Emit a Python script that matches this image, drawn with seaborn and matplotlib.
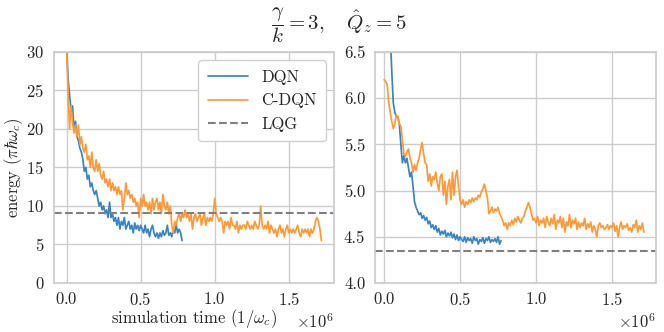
import numpy as np
import pandas as pd
import matplotlib
matplotlib.use('agg')
import matplotlib.pyplot as plt
import seaborn as sns

# time step between logged points (simulation time units)
dt = 1e4

# left panel: energy in units of pi*hbar*omega_c
left_dqn = [31.0, 26.5, 24.5, 22.5, 23.0, 20.0, 21.0, 19.0, 18.5, 17.5,
            17.0, 16.0, 14.5, 15.0, 13.5, 14.0, 12.5, 13.0, 12.0, 11.5,
            12.0, 11.0, 10.0, 10.5, 9.5, 10.0, 9.0, 9.5, 8.5, 10.5,
            8.5, 9.0, 8.0, 8.5, 7.5, 8.5, 7.0, 8.0, 7.5, 8.5,
            7.0, 7.5, 8.0, 7.0, 7.5, 6.5, 7.8, 7.0, 7.5, 6.8,
            7.5, 7.0, 6.5, 7.5, 6.5, 7.0, 6.0, 7.0, 7.5, 6.5,
            6.0, 6.5, 5.8, 6.5, 6.0, 6.8, 6.2, 6.5, 7.5, 6.2,
            6.5, 6.0, 7.0, 6.5, 7.5, 6.5, 7.0, 6.5, 5.5]
left_cdqn = [30.5, 25.0, 20.0, 23.0, 21.0, 19.5, 20.5, 19.0, 20.5, 18.0,
             19.0, 17.5, 17.0, 18.0, 16.0, 16.5, 15.0, 17.0, 15.0, 14.5,
             16.0, 14.5, 15.5, 14.0, 13.5, 14.5, 13.0, 13.5, 12.5, 13.5,
             12.0, 13.0, 12.0, 12.5, 11.5, 12.5, 11.5, 12.0, 9.5, 11.0,
             13.0, 11.5, 12.0, 11.0, 11.5, 10.5, 11.0, 10.0, 10.5, 8.5,
             11.0, 10.0, 11.5, 10.0, 10.5, 9.5, 10.5, 9.0, 11.0, 9.5,
             10.5, 11.0, 9.5, 10.5, 9.0, 11.5, 10.0, 9.5, 10.5, 9.0,
             10.0, 7.5, 6.5, 8.0, 7.5, 8.5, 9.0, 8.0, 9.0, 8.5,
             9.5, 8.5, 9.0, 8.0, 9.0, 7.0, 8.5, 9.0, 8.0, 8.5,
             9.0, 7.5, 8.5, 9.0, 7.5, 8.5, 8.0, 8.5, 8.0, 9.0,
             11.0, 9.0, 8.5, 8.0, 8.5, 8.0, 6.5, 8.0, 7.5, 8.0,
             7.0, 8.5, 7.5, 7.5, 7.0, 8.0, 6.5, 7.5, 7.0, 7.5,
             7.5, 7.0, 8.0, 7.5, 7.0, 7.5, 7.0, 8.0, 7.5, 7.0,
             7.5, 10.0, 7.5, 7.0, 7.5, 7.0, 8.0, 6.5, 7.5, 7.0,
             6.5, 7.0, 6.0, 7.0, 7.5, 6.5, 7.0, 6.0, 7.0, 7.5,
             6.5, 7.0, 6.5, 7.0, 6.5, 7.0, 7.5, 6.5, 6.0, 7.0,
             6.5, 7.0, 6.5, 7.0, 6.0, 7.0, 6.5, 7.0, 8.0, 8.5,
             8.0, 7.0, 5.5]
left_lqg = 9.1

# right panel
right_dqn = [9.5, 8.6, 7.8, 7.2, 6.7, 6.3, 5.95, 5.85, 5.8, 5.8,
             5.72, 5.5, 5.3, 5.38, 5.3, 5.35, 5.25, 5.15, 5.2, 5.05,
             4.88, 4.82, 4.78, 4.74, 4.76, 4.7, 4.73, 4.68, 4.71, 4.64,
             4.67, 4.6, 4.63, 4.58, 4.62, 4.55, 4.59, 4.52, 4.56, 4.53,
             4.57, 4.5, 4.54, 4.51, 4.55, 4.49, 4.53, 4.47, 4.52, 4.46,
             4.5, 4.47, 4.45, 4.5, 4.44, 4.49, 4.46, 4.48, 4.43, 4.5,
             4.46, 4.48, 4.42, 4.47, 4.45, 4.49, 4.43, 4.48, 4.46, 4.5,
             4.44, 4.47, 4.45, 4.48, 4.44, 4.5, 4.42, 4.46]
right_cdqn = [6.2, 6.18, 6.15, 5.95, 5.85, 5.75, 5.67, 5.72, 5.82, 5.8,
              5.72, 5.7, 5.55, 5.4, 5.37, 5.42, 5.45, 5.35, 5.3, 5.2,
              5.28, 5.22, 5.3, 5.35, 5.45, 5.52, 5.4, 5.3, 5.28, 5.1,
              5.18, 5.05, 5.15, 5.12, 5.2, 5.08, 5.0, 5.15, 5.18, 4.95,
              5.1, 4.85, 5.05, 5.12, 4.9, 5.2, 4.95, 5.15, 5.22, 5.05,
              4.9, 4.85, 4.9, 4.82, 4.88, 4.85, 4.9, 4.87, 4.92, 4.88,
              4.92, 4.9, 4.95, 4.93, 4.98, 5.02, 5.07, 5.0, 4.92, 4.75,
              4.78, 4.82, 4.76, 4.8, 4.78, 4.82, 4.75, 4.72, 4.68, 4.62,
              4.65, 4.58, 4.65, 4.62, 4.68, 4.63, 4.7, 4.66, 4.72, 4.68,
              4.65, 4.7, 4.72, 4.78, 4.82, 4.87, 4.82, 4.75, 4.68, 4.7,
              4.65, 4.72, 4.62, 4.68, 4.65, 4.7, 4.6, 4.72, 4.66, 4.62,
              4.7, 4.64, 4.74, 4.58, 4.68, 4.65, 4.72, 4.6, 4.7, 4.55,
              4.66, 4.62, 4.74, 4.6, 4.68, 4.64, 4.7, 4.58, 4.66, 4.6,
              4.65, 4.62, 4.7, 4.58, 4.64, 4.6, 4.66, 4.55, 4.62, 4.58,
              4.5, 4.62, 4.65, 4.6, 4.62, 4.58, 4.6, 4.63, 4.58, 4.62,
              4.6, 4.65, 4.56, 4.62, 4.5, 4.6, 4.66, 4.58, 4.62, 4.6,
              4.64, 4.57, 4.6, 4.55, 4.63, 4.6, 4.68, 4.55, 4.62, 4.58,
              4.65, 4.55]
right_lqg = 4.35

blue = '#3a84c2'
orange = '#ff9a3a'

sns.set_theme(style='whitegrid')
plt.rcParams['font.family'] = ['cmr10', 'DejaVu Serif']
plt.rcParams['mathtext.fontset'] = 'cm'
plt.rcParams['axes.formatter.use_mathtext'] = True
plt.rcParams['axes.unicode_minus'] = False

fig = plt.figure(figsize=(6.64, 3.32), dpi=100)
ax1 = fig.add_axes([0.0813, 0.1476, 0.4217, 0.6958])
ax2 = fig.add_axes([0.5648, 0.1476, 0.4232, 0.6958])


def series(vals):
    return pd.DataFrame({'t': np.arange(len(vals)) * dt, 'e': vals})


for ax, dqn, cdqn, lqg in [(ax1, left_dqn, left_cdqn, left_lqg),
                           (ax2, right_dqn, right_cdqn, right_lqg)]:
    sns.lineplot(data=series(dqn), x='t', y='e', ax=ax, color=blue,
                 lw=1.25, label='DQN')
    sns.lineplot(data=series(cdqn), x='t', y='e', ax=ax, color=orange,
                 lw=1.25, label='C-DQN')
    ax.axhline(lqg, color='#808080', ls='--', lw=1.5, label='LQG')
    ax.ticklabel_format(axis='x', style='sci', scilimits=(6, 6))
    ax.set_xticks([0, 0.5e6, 1.0e6, 1.5e6])
    ax.tick_params(labelsize=12, colors='#262626', pad=1)
    ax.tick_params(axis='x', pad=0)
    ax.xaxis.get_offset_text().set_fontsize(12)
    ax.set_xlabel('')
    ax.set_ylabel('')

ax1.set_xlim(-0.085e6, 1.805e6)
ax1.set_ylim(0, 30)
ax1.set_yticks([0, 5, 10, 15, 20, 25, 30])
ax1.set_xlabel(r'simulation time ($1/\omega_c$)', fontsize=12, labelpad=-1)
ax1.set_ylabel(r'energy ($\pi\hbar\omega_c$)', fontsize=12, labelpad=1)
ax1.legend(loc='upper right', fontsize=12, handlelength=2.4,
           borderpad=0.55, labelspacing=0.5, framealpha=1,
           edgecolor='#d0d0d0', bbox_to_anchor=(1.0, 1.0))

ax2.set_xlim(-0.06e6, 1.79e6)
ax2.set_ylim(4.0, 6.5)
ax2.set_yticks([4.0, 4.5, 5.0, 5.5, 6.0, 6.5])
ax2.set_yticklabels(['4.0', '4.5', '5.0', '5.5', '6.0', '6.5'])
ax2.get_legend().remove()

fig.suptitle(r'$\dfrac{\gamma}{k}=3,\quad \hat{Q}_z=5$', fontsize=15,
             x=0.51, y=0.925, va='center')

plt.savefig('out.png', dpi=100)
plt.close()
